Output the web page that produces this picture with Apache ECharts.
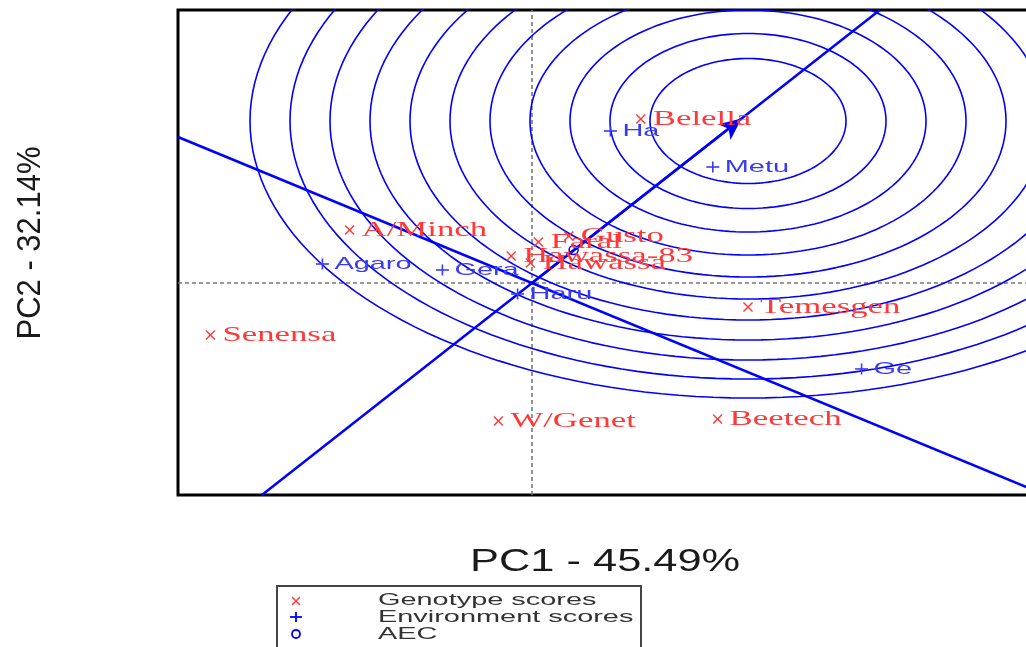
<!DOCTYPE html>
<html>
<head>
<meta charset="utf-8">
<script src="https://cdn.jsdelivr.net/npm/echarts@6/dist/echarts.min.js"></script>
<style>
  html, body { margin: 0; padding: 0; background: #fff; }
  #chart { width: 1026px; height: 647px; }
</style>
</head>
<body>
<div id="chart"></div>
<script>
// GGE biplot: genotype and environment scores on PC1 / PC2
const genotypeNames = ['Belella', 'A/Minch', 'Senensa', 'W/Genet', 'Beetech', 'Temesgen', 'Hawassa-83', 'Hawassa', 'Faral', 'Gusto'];
const genotypePC1 = [0.68, -1.14, -2.01, -0.21, 1.16, 1.35, -0.13, -0.01, 0.04, 0.23];
const genotypePC2 = [1.64, 0.53, -0.52, -1.38, -1.36, -0.24, 0.27, 0.20, 0.41, 0.47];

const envNames = ['Ha', 'Metu', 'Agaro', 'Gera', 'Haru', 'Ge'];
const envPC1 = [0.49, 1.13, -1.31, -0.56, -0.09, 2.06];
const envPC2 = [1.52, 1.16, 0.19, 0.13, -0.11, -0.86];

// average environment coordinate and the AEC arrow (ideal point)
const aecPoint = [0.26, 0.33];
const aecArrow = [1.31, 1.645];
// concentric rings around the ideal point (half-widths along PC1 and PC2)
const ringCenter = [1.35, 1.62];
const ringRadiiX = [0.6125, 0.8625, 1.1125, 1.3625, 1.6125, 1.8625, 2.1125, 2.3625, 2.6125, 2.8625, 3.1125];
const ringRadiiY = [0.625, 0.875, 1.11, 1.34, 1.56, 1.78, 1.99, 2.19, 2.39, 2.58, 2.77];
// AEC ordinate through the origin
const atcSlope = -0.66;

const xRange = [-2.2125, 3.125];
const yRange = [-2.12, 2.73];

const axisTitleX = 'PC1 - 45.49%';
const axisTitleY = 'PC2 - 32.14%';
const legendLabels = ['Genotype scores', 'Environment scores', 'AEC'];

const RED = '#ff3838';
const BLUE = '#0000ff';
const ENV_BLUE = '#3a3af0';

function ringPoints(rx, ry) {
  const pts = [];
  for (let i = 0; i <= 360; i += 2) {
    const a = i * Math.PI / 180;
    pts.push([ringCenter[0] + rx * Math.cos(a), ringCenter[1] + ry * Math.sin(a)]);
  }
  return pts;
}

const ringSeries = ringRadiiX.map((rx, i) => ({
  type: 'line', data: ringPoints(rx, ringRadiiY[i]), showSymbol: false, silent: true, animation: false,
  lineStyle: { color: BLUE, width: 1.6 }, z: 2
}));

const tTop = yRange[1] / aecArrow[1];
const tBot = yRange[0] / aecArrow[1];
const aecLine = [[aecArrow[0] * tBot, yRange[0]], [aecArrow[0] * tTop, yRange[1]]];
const atcLine = [[xRange[0], atcSlope * xRange[0]], [xRange[1], atcSlope * xRange[1]]];

function crossMark(p, s, color, w) {
  return [
    { type: 'line', shape: { x1: p[0] - s, y1: p[1] - s, x2: p[0] + s, y2: p[1] + s }, style: { stroke: color, lineWidth: w } },
    { type: 'line', shape: { x1: p[0] - s, y1: p[1] + s, x2: p[0] + s, y2: p[1] - s }, style: { stroke: color, lineWidth: w } }
  ];
}
function plusMark(p, sx, sy, color, w) {
  return [
    { type: 'line', shape: { x1: p[0] - sx, y1: p[1], x2: p[0] + sx, y2: p[1] }, style: { stroke: color, lineWidth: w } },
    { type: 'line', shape: { x1: p[0], y1: p[1] - sy, x2: p[0], y2: p[1] + sy }, style: { stroke: color, lineWidth: w } }
  ];
}

const chart = echarts.init(document.getElementById('chart'), null, { renderer: 'canvas' });

const option = {
  animation: false,
  backgroundColor: '#ffffff',
  grid: {
    left: 178, top: 10, width: 854, height: 485,
    outerBoundsMode: 'none', containLabel: false,
    show: true, borderColor: '#000', borderWidth: 3, backgroundColor: 'transparent'
  },
  xAxis: {
    type: 'value', min: xRange[0], max: xRange[1],
    axisLine: { show: false }, axisTick: { show: false }, axisLabel: { show: false }, splitLine: { show: false }
  },
  yAxis: {
    type: 'value', min: yRange[0], max: yRange[1],
    axisLine: { show: false }, axisTick: { show: false }, axisLabel: { show: false }, splitLine: { show: false }
  },
  series: [
    ...ringSeries,
    {
      type: 'line', data: [[0, yRange[0]], [0, yRange[1]]], showSymbol: false, silent: true,
      lineStyle: { color: '#777', width: 1.6, type: [4, 3] }, z: 1
    },
    {
      type: 'line', data: [[xRange[0], 0], [xRange[1], 0]], showSymbol: false, silent: true,
      lineStyle: { color: '#777', width: 1.6, type: [4, 3] }, z: 1
    },
    {
      type: 'line', data: atcLine, showSymbol: false, silent: true,
      lineStyle: { color: BLUE, width: 2.5 }, z: 3
    },
    {
      type: 'line', data: aecLine, showSymbol: false, silent: true,
      lineStyle: { color: BLUE, width: 2.5 }, z: 3,
      markLine: {
        silent: true, symbol: ['none', 'arrow'], symbolSize: [15, 22],
        label: { show: false }, lineStyle: { color: BLUE, width: 2.5, type: 'solid' },
        data: [[{ coord: [0, 0] }, { coord: aecArrow }]]
      }
    },
    {
      type: 'custom', silent: true, z: 5,
      data: [aecPoint],
      renderItem(params, api) {
        const p = api.coord([api.value(0), api.value(1)]);
        return { type: 'circle', shape: { cx: p[0], cy: p[1], r: 4.5 }, style: { stroke: BLUE, fill: 'none', lineWidth: 1.5 } };
      }
    },
    {
      type: 'custom', silent: true, z: 6,
      data: genotypeNames.map((n, i) => [genotypePC1[i], genotypePC2[i]]),
      renderItem(params, api) {
        const p = api.coord([api.value(0), api.value(1)]);
        return {
          type: 'group',
          children: [
            ...crossMark(p, 4.5, RED, 1.4),
            {
              type: 'text', x: p[0] + 12, y: p[1], scaleX: 1.58,
              style: {
                text: genotypeNames[params.dataIndex], fill: RED,
                font: '22px "Liberation Serif", "DejaVu Serif", serif',
                align: 'left', verticalAlign: 'middle'
              }
            }
          ]
        };
      }
    },
    {
      type: 'custom', silent: true, z: 6,
      data: envNames.map((n, i) => [envPC1[i], envPC2[i]]),
      renderItem(params, api) {
        const p = api.coord([api.value(0), api.value(1)]);
        return {
          type: 'group',
          children: [
            ...plusMark(p, 6.5, 5.5, ENV_BLUE, 1.6),
            {
              type: 'text', x: p[0] + 12, y: p[1], scaleX: 1.7,
              style: {
                text: envNames[params.dataIndex], fill: ENV_BLUE,
                font: '17px "Liberation Sans", Arial, sans-serif',
                align: 'left', verticalAlign: 'middle'
              }
            }
          ]
        };
      }
    }
  ],
  graphic: [
    {
      type: 'text', x: 470, y: 562, scaleX: 1.4,
      style: { text: axisTitleX, fill: '#1a1a1a', font: '31px "Liberation Sans", Arial, sans-serif', align: 'left', verticalAlign: 'middle' }
    },
    {
      type: 'text', x: 31, y: 243, rotation: Math.PI / 2, scaleY: 1.1,
      style: { text: axisTitleY, fill: '#1a1a1a', font: '31px "Liberation Sans", Arial, sans-serif', align: 'center', verticalAlign: 'middle' }
    },
    {
      type: 'rect', shape: { x: 277, y: 586, width: 364, height: 90 },
      style: { fill: 'none', stroke: '#444', lineWidth: 2 }
    },
    {
      type: 'group',
      children: [
        ...crossMark([296, 601], 4, RED, 1.4),
        ...plusMark([296, 617], 6, 5, BLUE, 1.8),
        { type: 'circle', shape: { cx: 296, cy: 634, r: 4 }, style: { fill: 'none', stroke: BLUE, lineWidth: 1.8 } }
      ]
    },
    ...legendLabels.map((t, i) => ({
      type: 'text', x: 378, y: 600 + i * 17, scaleX: 1.7,
      style: { text: t, fill: '#333', font: '17px "Liberation Sans", Arial, sans-serif', align: 'left', verticalAlign: 'middle' }
    }))
  ]
};

chart.setOption(option);
</script>
</body>
</html>
